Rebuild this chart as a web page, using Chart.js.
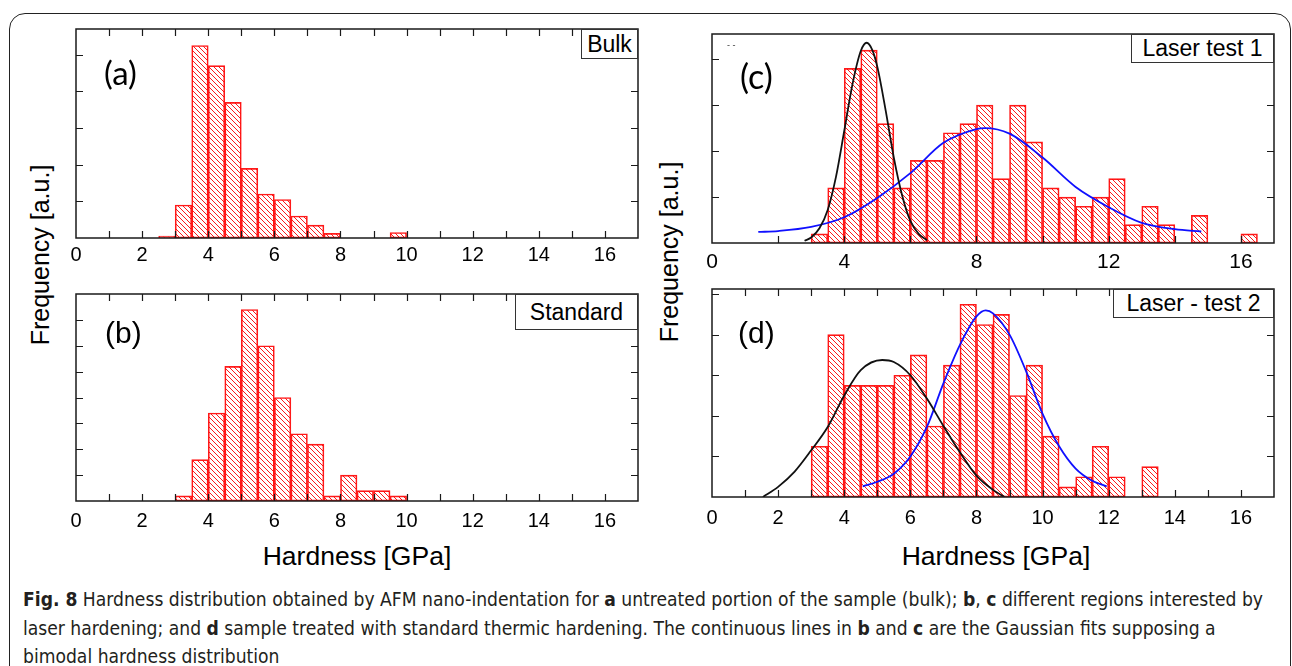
<!DOCTYPE html>
<html>
<head>
<meta charset="utf-8">
<script src="https://cdn.jsdelivr.net/npm/chart.js@4.4.1/dist/chart.umd.min.js"></script>
<style>
  body { margin: 0; width: 1292px; height: 666px; background: #fff; position: relative; overflow: hidden;
         font-family: "Liberation Sans", Arial, sans-serif; color: #000; }
  .frame { position: absolute; left: 9px; top: 13px; width: 1282px; height: 700px; border: 1.5px solid #222;
           border-radius: 16px; box-sizing: border-box; }
  .plot { position: absolute; }
  .tag { position: absolute; background: #fff; border: 1px solid #333; box-sizing: border-box; font-size: 23px;
         display: flex; align-items: center; justify-content: center; white-space: nowrap; }
  .letter { position: absolute; line-height: 1; transform: translateY(-50%); white-space: nowrap; }
  .ytitle { position: absolute; font-size: 25px; transform: translate(-50%, -50%) rotate(-90deg); white-space: nowrap; }
  .xtitle { position: absolute; font-size: 26.5px; transform: translate(-50%, -50%); white-space: nowrap; }
  .caption { position: absolute; left: 23px; top: 585px; font-family: "Liberation Sans Narrow", "DejaVu Sans Condensed", sans-serif;
             font-size: 20px; line-height: 28.5px; white-space: nowrap; color: #231f20; transform-origin: 0 0; }
  .dots { position: absolute; left: 727px; top: 40px; font-size: 9px; color: #333; }
</style>
</head>
<body>
<div class="frame"></div>

<div class="plot" id="boxA" style="left:61px; top:24px; width:592px; height:244px;"><canvas id="chartA"></canvas></div>
<div class="plot" id="boxB" style="left:61px; top:289px; width:592px; height:242px;"><canvas id="chartB"></canvas></div>
<div class="plot" id="boxC" style="left:697px; top:29px; width:592px; height:244px;"><canvas id="chartC"></canvas></div>
<div class="plot" id="boxD" style="left:697px; top:284px; width:592px; height:243px;"><canvas id="chartD"></canvas></div>

<div class="tag" style="left:581px; top:29px; width:57px; height:30px;">Bulk</div>
<div class="tag" style="left:515px; top:294px; width:123px; height:36px;">Standard</div>
<div class="tag" style="left:1131px; top:34px; width:143px; height:29px;">Laser test 1</div>
<div class="tag" style="left:1113px; top:289px; width:161px; height:29px;">Laser - test 2</div>

<div class="letter" style="left:104px; top:72px; font-family:Lato, sans-serif; font-size:33px;">(a)</div>
<div class="letter" style="left:105px; top:333px; font-size:30px;">(b)</div>
<div class="letter" style="left:740px; top:76px; font-family:Lato, sans-serif; font-size:34px;">(c)</div>
<div class="letter" style="left:738px; top:333px; font-size:30px;">(d)</div>
<div class="dots">- -</div>

<div class="ytitle" style="left:40px; top:255px;">Frequency [a.u.]</div>
<div class="ytitle" style="left:669px; top:252px;">Frequency [a.u.]</div>
<div class="xtitle" style="left:357px; top:556px;">Hardness [GPa]</div>
<div class="xtitle" style="left:996px; top:556px;">Hardness [GPa]</div>

<div class="caption" id="caption">
  <div><span id="capLine1"><b>Fig. 8</b> Hardness distribution obtained by AFM nano-indentation for <b>a</b> untreated portion of the sample (bulk); <b>b</b>, <b>c</b> different regions interested by</span></div>
  <div>laser hardening; and <b>d</b> sample treated with standard thermic hardening. The continuous lines in <b>b</b> and <b>c</b> are the Gaussian fits supposing a</div>
  <div>bimodal hardness distribution</div>
</div>

<script>
// x axis labels
const hardnessTicks = [0, 2, 4, 6, 8, 10, 12, 14, 16];
const hardnessTicksC = [0, 4, 8, 12, 16];

// (a) bulk - lower bin edge, 0.5 GPa bins
const bulkBins = [2.5, 3.0, 3.5, 4.0, 4.5, 5.0, 5.5, 6.0, 6.5, 7.0, 7.5, 9.5];
const bulkCounts = [1, 18, 105, 94, 74, 38, 24, 21, 12, 7, 2.5, 3];
const bulkYTicks = [20, 40, 60, 80, 100];

// (b) standard
const standardBins = [3.0, 3.5, 4.0, 4.5, 5.0, 5.5, 6.0, 6.5, 7.0, 7.5, 8.0, 8.5, 9.0, 9.5];
const standardCounts = [1, 8, 17, 26, 37, 30, 20, 13, 11, 1, 5, 2, 2, 1];
const standardYTicks = [5, 10, 15, 20, 25, 30, 35];

// (c) laser test 1
const laser1Bins = [3.0, 3.5, 4.0, 4.5, 5.0, 5.5, 6.0, 6.5, 7.0, 7.5, 8.0, 8.5, 9.0, 9.5, 10.0, 10.5,
                    11.0, 11.5, 12.0, 12.5, 13.0, 13.5, 14.5, 16.0];
const laser1Counts = [1, 6, 19, 21, 13, 6, 9, 9, 12, 13, 15, 7, 15, 11, 6, 5, 4, 5, 7, 2, 4, 2, 3, 1];
const laser1YTicks = [5, 10, 15, 20];
const fitC1X = [2.8, 3.0, 3.25, 3.5, 3.75, 4.0, 4.25, 4.5, 4.68, 4.85, 5.0, 5.25, 5.5, 5.75, 6.0, 6.25, 6.5];
const fitC1Y = [0.25, 0.6, 1.6, 3.6, 7.2, 12.2, 17.3, 20.9, 21.8, 21.0, 19.2, 14.5, 9.3, 5.2, 2.4, 1.0, 0.3];
const fitC2X = [1.4, 2, 3, 4, 5, 6, 7, 8, 8.25, 9, 10, 11, 12, 13, 14, 14.8];
const fitC2Y = [1.2, 1.3, 1.75, 2.8, 4.9, 7.6, 10.9, 12.4, 12.5, 11.9, 9.3, 6.1, 3.9, 2.2, 1.5, 1.25];

// (d) laser test 2
const laser2Bins = [3.0, 3.5, 4.0, 4.5, 5.0, 5.5, 6.0, 6.5, 7.0, 7.5, 8.0, 8.5, 9.0, 9.5, 10.0, 10.5,
                    11.0, 11.5, 12.0, 13.0];
const laser2Counts = [5, 16, 11, 11, 11, 12, 14, 7, 13, 19, 17, 18, 10, 13, 6, 1, 2, 5, 2, 3];
const laser2YTicks = [4, 8, 12, 16, 20];
const fitD1X = [1.54, 2.0, 2.5, 3.0, 3.5, 4.0, 4.5, 5.15, 5.5, 6.0, 6.5, 7.0, 7.5, 8.0, 8.5, 8.85];
const fitD1Y = [0, 1.0, 2.5, 4.6, 6.9, 10.0, 12.5, 13.5, 13.3, 12.0, 9.7, 7.0, 4.4, 2.1, 0.7, 0];
const fitD2X = [4.56, 5.0, 5.5, 6.0, 6.5, 7.0, 7.5, 8.0, 8.28, 8.5, 9.0, 9.5, 10.0, 10.5, 11.0, 11.5, 11.94];
const fitD2Y = [1.05, 1.5, 2.3, 4.0, 6.9, 11.2, 15.0, 17.8, 18.4, 18.1, 16.0, 12.4, 8.2, 5.0, 2.8, 1.6, 1.05];

const binWidth = 0.5;

const makeHatch = () => {
  const c = document.createElement("canvas");
  c.width = 5;
  c.height = 5;
  const g = c.getContext("2d");
  g.strokeStyle = "rgba(255,0,0,0.9)";
  g.lineWidth = 1;
  g.beginPath();
  g.moveTo(-1, -1); g.lineTo(6, 6);
  g.moveTo(-1, 4); g.lineTo(1, 6);
  g.moveTo(4, -1); g.lineTo(6, 1);
  g.stroke();
  return g.createPattern(c, "repeat");
};
const hatch = makeHatch();

// box round the plot and inward ticks on all sides
const framePlugin = {
  id: "frame",
  afterDatasetsDraw(chart, args, opts) {
    const { ctx, chartArea: a } = chart;
    const x = chart.scales.x;
    const y = chart.scales.y;
    ctx.save();
    ctx.strokeStyle = "#1a1a1a";
    ctx.lineWidth = 1.2;
    ctx.beginPath();
    for (let v = opts.xStep; v < x.max - 0.01; v += opts.xStep) {
      const px = Math.round(x.getPixelForValue(v)) + 0.5;
      ctx.moveTo(px, a.bottom); ctx.lineTo(px, a.bottom - 7);
      if (opts.topTicks) { ctx.moveTo(px, a.top); ctx.lineTo(px, a.top + 7); }
    }
    opts.yTicks.forEach((v) => {
      const py = Math.round(y.getPixelForValue(v)) + 0.5;
      ctx.moveTo(a.left, py); ctx.lineTo(a.left + 7, py);
      ctx.moveTo(a.right, py); ctx.lineTo(a.right - 7, py);
    });
    ctx.stroke();
    ctx.lineWidth = 1.5;
    ctx.strokeRect(a.left, a.top, a.right - a.left, a.bottom - a.top);
    ctx.restore();
  },
};

const fitLine = (xs, ys, color) => ({
  type: "line",
  data: xs.map((v, i) => ({ x: v, y: ys[i] })),
  borderColor: color,
  borderWidth: 1.8,
  pointRadius: 0,
  tension: 0.4,
  cubicInterpolationMode: "monotone",
  order: 0,
});

const makePanel = (id, bins, counts, fits, yMax, yTicks, xLabels, xStep, topTicks, labelPad, labelSize) => {
  const datasets = [
    {
      type: "bar",
      data: bins.map((b, i) => ({ x: b + binWidth / 2, y: counts[i] })),
      backgroundColor: hatch,
      borderColor: "#ff1a1a",
      borderWidth: 1,
      borderSkipped: false,
      barPercentage: 1,
      categoryPercentage: 1,
      order: 1,
    },
    ...fits,
  ];
  new Chart(document.getElementById(id), {
    type: "bar",
    data: { datasets },
    options: {
      responsive: true,
      maintainAspectRatio: false,
      animation: false,
      layout: { padding: { left: 15, right: 15, top: 5, bottom: 0 } },
      plugins: {
        legend: { display: false },
        tooltip: { enabled: false },
        frame: { xStep, topTicks, yTicks },
      },
      scales: {
        x: {
          type: "linear",
          offset: false,
          min: 0,
          max: 17,
          grid: { display: false, drawTicks: false, offset: false },
          border: { display: false },
          afterBuildTicks: (axis) => { axis.ticks = xLabels.map((v) => ({ value: v })); },
          afterFit: (axis) => { axis.height = 30; },
          ticks: {
            padding: labelPad,
            maxRotation: 0,
            autoSkip: false,
            color: "#000",
            font: { family: "'Liberation Sans', Arial, sans-serif", size: labelSize },
          },
        },
        y: { display: false, min: 0, max: yMax },
      },
    },
    plugins: [framePlugin],
  });
};

makePanel("chartA", bulkBins, bulkCounts, [], 114, bulkYTicks, hardnessTicks, 1, true, 5, 20);
makePanel("chartB", standardBins, standardCounts, [], 40, standardYTicks, hardnessTicks, 1, true, 8, 20);
makePanel("chartC", laser1Bins, laser1Counts,
  [fitLine(fitC1X, fitC1Y, "#111"), fitLine(fitC2X, fitC2Y, "#1010ff")],
  22.75, laser1YTicks, hardnessTicksC, 2, false, 7, 21);
makePanel("chartD", laser2Bins, laser2Counts,
  [fitLine(fitD1X, fitD1Y, "#111"), fitLine(fitD2X, fitD2Y, "#1010ff")],
  20.5, laser2YTicks, hardnessTicks, 1, true, 9, 20);

// caption: squeeze horizontally so the first line spans its width in the figure
const fitCaption = () => {
  const tw = document.getElementById("capLine1").getBoundingClientRect().width;
  document.getElementById("caption").style.transform = "scaleX(" + (1240 / tw).toFixed(4) + ")";
};
fitCaption();
</script>
</body>
</html>
